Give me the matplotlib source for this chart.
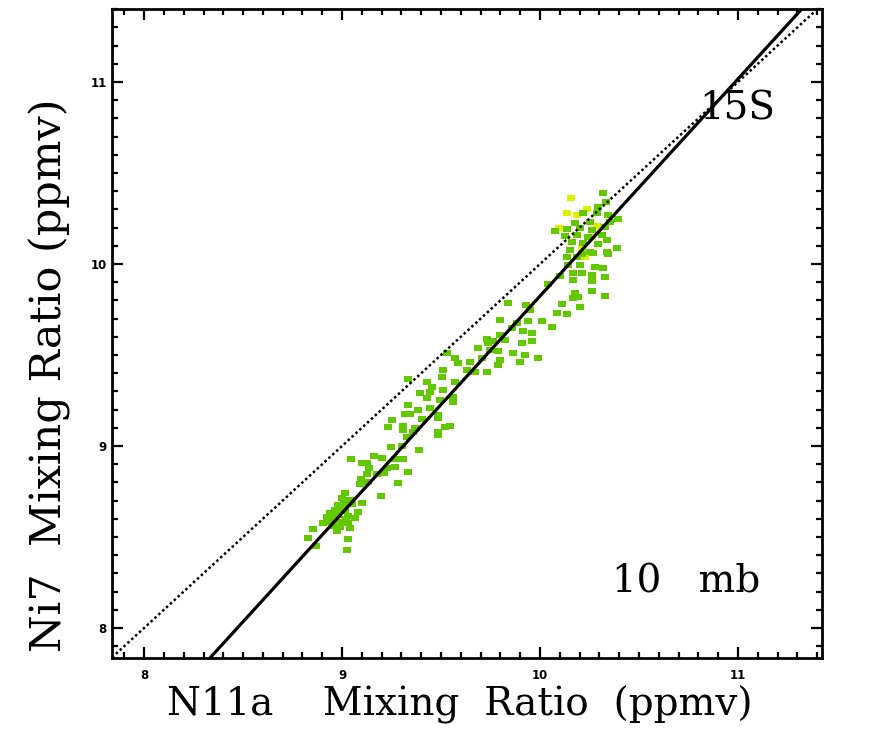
import matplotlib
matplotlib.use("Agg")
import matplotlib.pyplot as plt
from matplotlib.ticker import MultipleLocator

# ---------------- data ----------------
x_green = [
    9.247, 9.305, 9.389, 9.045, 9.163, 9.204, 9.268, 9.310, 9.099, 9.125,
    9.136, 9.226, 9.268, 9.335, 9.125, 9.175, 9.214, 9.096, 9.133, 9.091,
    9.281, 9.015, 9.197, 8.998, 9.040, 9.099, 8.981, 9.015, 8.965, 9.015,
    9.082, 8.939, 8.981, 9.032, 9.066, 8.923, 8.965, 8.998, 8.906, 9.032,
    8.956, 8.990, 9.040, 8.855, 8.973, 8.830, 9.029, 8.867, 9.024,
    9.000, 8.950, 9.020, 8.980, 9.050, 8.940, 9.010,
    9.688, 9.739, 9.529, 9.571, 9.587, 9.646, 9.706, 9.512, 9.630, 9.672,
    9.731, 9.335, 9.428, 9.504, 9.571, 9.453, 9.394, 9.444, 9.512, 9.428,
    9.495, 9.562, 9.562, 9.335, 9.385, 9.444, 9.486, 9.318, 9.343, 9.251,
    9.403, 9.486, 9.234, 9.310, 9.369, 9.520, 9.545, 9.360, 9.310, 9.486,
    9.327, 9.486,
    10.042, 9.840, 9.929, 9.949, 10.110, 10.084, 10.135, 9.798, 9.882, 9.941,
    10.009, 10.059, 9.857, 9.916, 9.958, 9.798, 9.731, 9.764, 9.823, 9.908,
    9.958, 9.747, 9.789, 9.865, 9.924, 9.988, 9.798, 9.899, 9.789,
    10.135, 10.211, 10.269, 10.345, 10.143, 10.202, 10.278, 10.320, 10.168, 10.211,
    10.261, 10.328, 10.101, 10.168, 10.261, 10.261, 10.328, 10.177, 10.168, 10.193,
    10.202,
    10.320, 10.333, 10.294, 10.219, 10.286, 10.345, 10.395, 10.177, 10.253, 10.354,
    10.076, 10.135, 10.202, 10.261, 10.328, 10.126, 10.185, 10.244, 10.312, 10.160,
    10.219, 10.294, 10.337, 10.387, 10.152, 10.253, 10.337, 10.185,
]
y_green = [
    8.996, 9.000, 8.978, 8.927, 8.947, 8.936, 8.929, 8.927, 8.908, 8.908,
    8.877, 8.877, 8.883, 8.855, 8.844, 8.844, 8.850, 8.817, 8.804, 8.790,
    8.795, 8.743, 8.725, 8.713, 8.703, 8.685, 8.676, 8.676, 8.648, 8.648,
    8.639, 8.634, 8.621, 8.615, 8.603, 8.608, 8.593, 8.584, 8.575, 8.575,
    8.560, 8.553, 8.548, 8.542, 8.535, 8.493, 8.488, 8.451, 8.429,
    8.650, 8.620, 8.600, 8.660, 8.680, 8.580, 8.700,
    9.537, 9.564, 9.509, 9.482, 9.454, 9.463, 9.482, 9.418, 9.418, 9.408,
    9.408, 9.367, 9.353, 9.378, 9.353, 9.326, 9.290, 9.298, 9.308, 9.262,
    9.253, 9.271, 9.244, 9.225, 9.198, 9.207, 9.170, 9.176, 9.176, 9.143,
    9.147, 9.152, 9.103, 9.107, 9.098, 9.103, 9.110, 9.079, 9.088, 9.079,
    9.048, 9.060,
    9.890, 9.787, 9.775, 9.747, 9.780, 9.729, 9.725, 9.692, 9.677, 9.689,
    9.689, 9.656, 9.647, 9.634, 9.619, 9.610, 9.586, 9.574, 9.582, 9.568,
    9.574, 9.527, 9.519, 9.510, 9.500, 9.482, 9.473, 9.463, 9.445,
    10.040, 10.055, 10.059, 10.055, 9.995, 9.995, 9.985, 9.976, 9.949, 9.952,
    9.940, 9.930, 9.934, 9.912, 9.909, 9.854, 9.824, 9.839, 9.812, 9.820,
    9.762,
    10.392, 10.342, 10.315, 10.279, 10.279, 10.269, 10.246, 10.227, 10.233, 10.233,
    10.183, 10.191, 10.196, 10.187, 10.205, 10.154, 10.159, 10.150, 10.159, 10.123,
    10.114, 10.110, 10.132, 10.086, 10.077, 10.068, 10.068, 10.040,
]
x_yellow = [10.154, 10.135, 10.185, 10.236, 10.096, 10.288, 10.261, 10.227, 10.212]
y_yellow = [10.363, 10.279, 10.269, 10.301, 10.196, 10.209, 10.150, 10.040, 10.088]

fit_slope = 1.193
fit_intercept = -2.106

x_ticks = [8, 9, 10, 11]
y_ticks = [8, 9, 10, 11]
x_limits = (7.838, 11.424)
y_limits = (7.835, 11.401)

# ---------------- figure ----------------
fig = plt.figure(figsize=(8.92, 7.31), dpi=100)
ax = fig.add_axes([0.1256, 0.0999, 0.9215 - 0.1256, 0.9877 - 0.0999])

rect = [(-1, -0.68), (1, -0.68), (1, 0.68), (-1, 0.68), (-1, -0.68)]
ax.scatter(x_yellow, y_yellow, marker=rect, s=36, color="#dcf000",
           linewidths=0, zorder=2)
ax.scatter(x_green, y_green, marker=rect, s=36, color="#62c800",
           linewidths=0, zorder=3)

ax.axline((0, fit_intercept), slope=fit_slope, color="black", lw=2.3, zorder=4)
ax.axline((8, 8), slope=1, color="black", lw=1.8,
          linestyle=(0, (1, 1.1)), zorder=4)

ax.set_xlim(*x_limits)
ax.set_ylim(*y_limits)
ax.set_xticks(x_ticks)
ax.set_yticks(y_ticks)
ax.xaxis.set_minor_locator(MultipleLocator(0.1))
ax.yaxis.set_minor_locator(MultipleLocator(0.1))
ax.tick_params(which="both", direction="in", top=True, right=True, width=1.6)
ax.tick_params(which="major", length=8)
ax.tick_params(which="minor", length=4.5)
ax.tick_params(axis="x", pad=8)
ax.tick_params(axis="y", pad=4)
for lab in ax.get_xticklabels() + ax.get_yticklabels():
    lab.set_fontweight("bold")
    lab.set_fontsize(8.5)
    lab.set_family("DejaVu Sans")
for sp in ax.spines.values():
    sp.set_linewidth(2.0)

ax.text(10.995, 10.85, "15S", fontsize=28, family="DejaVu Serif",
        ha="center", va="center")
ax.text(10.74, 8.25, "10   mb", fontsize=28, family="DejaVu Serif",
        ha="center", va="center")

fig.text(0.516, 0.036, "N11a    Mixing  Ratio  (ppmv)", fontsize=28,
         family="DejaVu Serif", ha="center", va="center")
fig.text(0.056, 0.487, "Ni7  Mixing Ratio (ppmv)", fontsize=31,
         family="DejaVu Serif", ha="center", va="center", rotation=90)

fig.savefig("out.png", dpi=100)
